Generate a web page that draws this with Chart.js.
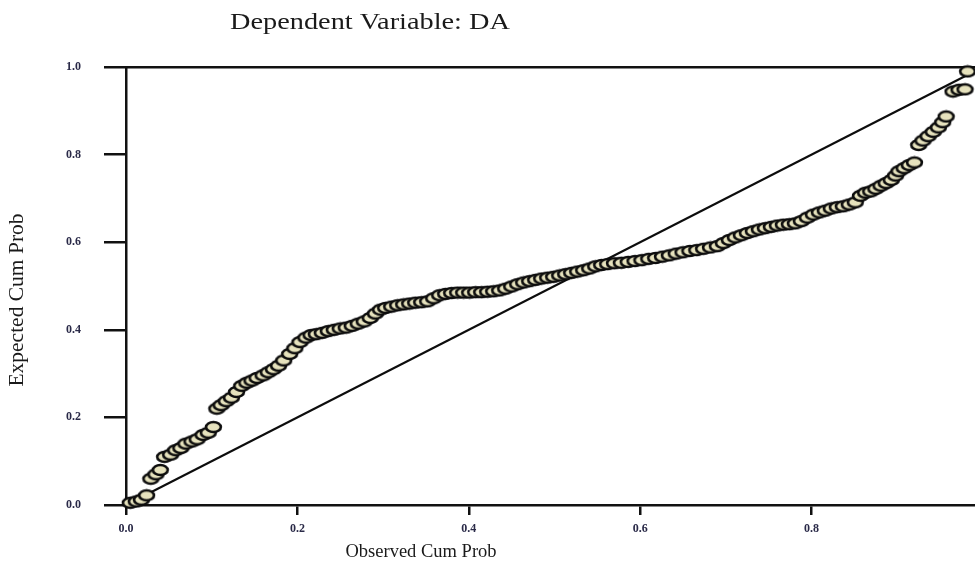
<!DOCTYPE html>
<html>
<head>
<meta charset="utf-8">
<script src="https://cdn.jsdelivr.net/npm/chart.js@4.4.1/dist/chart.umd.min.js"></script>
<style>
  html, body { margin: 0; padding: 0; background: #ffffff; overflow: hidden; }
  #wrap { position: relative; width: 1000px; height: 565px; }
</style>
</head>
<body>
<div id="wrap"><canvas id="ppPlot" width="1000" height="565"></canvas></div>
<script>
// --- P-P plot data ---
const chartTitle = "Dependent Variable: DA";
const xAxisTitle = "Observed Cum Prob";
const yAxisTitle = "Expected Cum Prob";
const tickValues = [0, 0.2, 0.4, 0.6, 0.8, 1.0];

const observedCumProb = [
  0.005, 0.012, 0.018, 0.024, 0.029, 0.035, 0.040, 0.045, 0.052, 0.058,
  0.064, 0.070, 0.077, 0.083, 0.090, 0.096, 0.102, 0.106, 0.111, 0.117,
  0.123, 0.129, 0.135, 0.141, 0.147, 0.153, 0.160, 0.166, 0.172, 0.178,
  0.184, 0.191, 0.197, 0.203, 0.210, 0.216, 0.222, 0.229, 0.236, 0.243,
  0.250, 0.257, 0.264, 0.271, 0.278, 0.285, 0.291, 0.297, 0.303, 0.310,
  0.317, 0.324, 0.331, 0.338, 0.345, 0.352, 0.359, 0.366, 0.373, 0.380,
  0.387, 0.394, 0.401, 0.408, 0.415, 0.422, 0.429, 0.436, 0.443, 0.450,
  0.457, 0.464, 0.471, 0.478, 0.485, 0.492, 0.499, 0.506, 0.513, 0.520,
  0.527, 0.534, 0.541, 0.548, 0.555, 0.562, 0.570, 0.578, 0.586, 0.594,
  0.602, 0.610, 0.618, 0.626, 0.634, 0.642, 0.650, 0.658, 0.666, 0.674,
  0.682, 0.690, 0.697, 0.704, 0.711, 0.718, 0.725, 0.732, 0.739, 0.746,
  0.753, 0.760, 0.767, 0.774, 0.781, 0.788, 0.795, 0.802, 0.809, 0.816,
  0.823, 0.830, 0.837, 0.844, 0.851, 0.857, 0.863, 0.869, 0.875, 0.881,
  0.887, 0.893, 0.898, 0.902, 0.908, 0.914, 0.920, 0.925, 0.930, 0.936,
  0.942, 0.948, 0.953, 0.957, 0.965, 0.972, 0.979, 0.982
];

const expectedCumProb = [
  0.005, 0.008, 0.012, 0.022, 0.060, 0.070, 0.080, 0.110, 0.115, 0.125,
  0.130, 0.140, 0.145, 0.150, 0.160, 0.165, 0.178, 0.220, 0.228, 0.237,
  0.245, 0.258, 0.272, 0.279, 0.284, 0.290, 0.296, 0.303, 0.310, 0.318,
  0.330, 0.345, 0.358, 0.372, 0.382, 0.388, 0.390, 0.393, 0.397, 0.400,
  0.403, 0.405, 0.409, 0.414, 0.419, 0.427, 0.437, 0.446, 0.450, 0.453,
  0.456, 0.458, 0.460, 0.462, 0.463, 0.465, 0.472, 0.479, 0.482, 0.484,
  0.485, 0.485, 0.485, 0.486, 0.486, 0.487, 0.488, 0.490, 0.494, 0.499,
  0.504, 0.508, 0.511, 0.514, 0.517, 0.519, 0.521, 0.524, 0.527, 0.530,
  0.533, 0.536, 0.540, 0.545, 0.548, 0.550, 0.552, 0.553, 0.555, 0.557,
  0.559, 0.562, 0.564, 0.567, 0.570, 0.574, 0.577, 0.580, 0.582, 0.585,
  0.588, 0.591, 0.598, 0.605, 0.611, 0.616, 0.621, 0.625, 0.629, 0.632,
  0.635, 0.638, 0.640, 0.641, 0.643, 0.648, 0.656, 0.663, 0.668, 0.672,
  0.677, 0.680, 0.682, 0.686, 0.691, 0.706, 0.713, 0.716, 0.722, 0.729,
  0.735, 0.742, 0.752, 0.762, 0.769, 0.776, 0.782, 0.822, 0.832, 0.842,
  0.852, 0.862, 0.874, 0.887, 0.944, 0.948, 0.949, 0.990
];

// reference line y = x
const diagonalX = [0, 1];
const diagonalY = [0, 1];

// Ellipse marker (SPSS style: pale fill, heavy dark outline)
function makeEllipseMarker() {
  const c = document.createElement("canvas");
  c.width = 19;
  c.height = 14;
  const g = c.getContext("2d");
  g.beginPath();
  g.ellipse(9.5, 7, 7.4, 5, 0, 0, Math.PI * 2);
  g.fillStyle = "#e6e2bd";
  g.fill();
  g.lineWidth = 2.6;
  g.strokeStyle = "#0d0d0d";
  g.stroke();
  return c;
}

// Title and axis titles drawn where the reference puts them
const textPlugin = {
  id: "ppText",
  afterDraw(chart) {
    const ctx = chart.ctx;
    ctx.save();
    ctx.fillStyle = "#1a1a1a";
    ctx.textAlign = "center";
    ctx.textBaseline = "middle";
    // the source image is stretched sideways, so the title is too
    ctx.save();
    ctx.translate(370, 23);
    ctx.scale(1.18, 1);
    ctx.font = "24px 'Liberation Serif'";
    ctx.fillText(chartTitle, 0, 0);
    ctx.restore();
    ctx.font = "18.5px 'Liberation Serif'";
    ctx.fillText(xAxisTitle, 421, 552);
    ctx.translate(17, 300);
    ctx.rotate(-Math.PI / 2);
    ctx.font = "21.5px 'Liberation Serif'";
    ctx.fillText(yAxisTitle, 0, 0);
    ctx.restore();
  },
};

const ctx = document.getElementById("ppPlot").getContext("2d");
const marker = makeEllipseMarker();
const tickFont = { family: "Liberation Serif", size: 12, weight: "bold" };

new Chart(ctx, {
  type: "scatter",
  data: {
    datasets: [
      {
        label: "Cases",
        data: observedCumProb.map((x, i) => ({ x: x, y: expectedCumProb[i] })),
        pointStyle: marker,
        pointRadius: 7,
        clip: false,
        order: 0,
      },
      {
        label: "Diagonal",
        type: "line",
        data: diagonalX.map((x, i) => ({ x: x, y: diagonalY[i] })),
        borderColor: "#0d0d0d",
        borderWidth: 2.2,
        pointRadius: 0,
        fill: false,
        order: 1,
      },
    ],
  },
  options: {
    responsive: false,
    animation: false,
    devicePixelRatio: 1,
    layout: { padding: { top: 67, left: 66, right: 17, bottom: 0 } },
    plugins: {
      legend: { display: false },
      tooltip: { enabled: false },
      title: { display: false },
    },
    scales: {
      x: {
        type: "linear",
        min: 0,
        max: 1,
        afterBuildTicks(scale) {
          scale.ticks = tickValues.map((v) => ({ value: v }));
        },
        afterFit(scale) {
          scale.height = 60;
        },
        border: { display: true, color: "#111111", width: 2.5 },
        grid: {
          drawOnChartArea: false,
          drawTicks: true,
          tickLength: 10,
          color: "#111111",
          lineWidth: 2.5,
        },
        ticks: {
          color: "#2a2a48",
          font: tickFont,
          padding: 7,
          maxRotation: 0,
          autoSkip: false,
          callback: (v) => Number(v).toFixed(1),
        },
      },
      x2: {
        type: "linear",
        position: "top",
        min: 0,
        max: 1,
        afterFit(scale) {
          scale.height = 0;
        },
        border: { display: true, color: "#111111", width: 2.5 },
        grid: { display: false, drawTicks: false },
        ticks: { display: false },
      },
      y: {
        type: "linear",
        min: 0,
        max: 1,
        afterBuildTicks(scale) {
          scale.ticks = tickValues.map((v) => ({ value: v }));
        },
        afterFit(scale) {
          scale.width = 60;
        },
        border: { display: true, color: "#111111", width: 2.5 },
        grid: {
          drawOnChartArea: false,
          drawTicks: true,
          tickLength: 22,
          color: "#111111",
          lineWidth: 2.5,
        },
        ticks: {
          color: "#2a2a48",
          font: tickFont,
          padding: 23,
          autoSkip: false,
          callback: (v) => Number(v).toFixed(1),
        },
      },
    },
  },
  plugins: [textPlugin],
});
</script>
</body>
</html>
